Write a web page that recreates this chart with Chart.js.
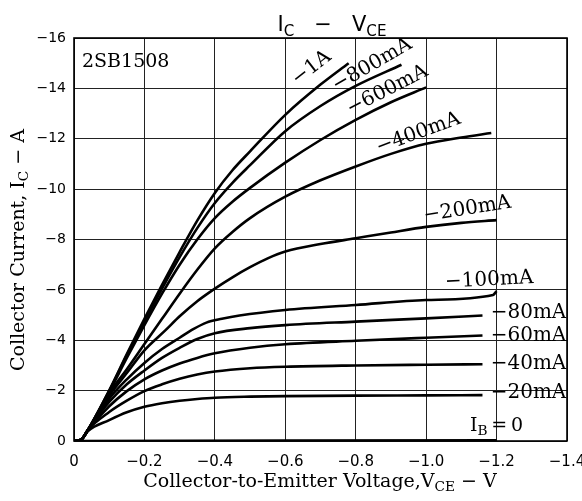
<!DOCTYPE html>
<html><head><meta charset="utf-8">
<script src="https://cdn.jsdelivr.net/npm/chart.js@4/dist/chart.umd.min.js"></script>
<style>html,body{margin:0;padding:0;background:#fff;}canvas{display:block;}</style>
</head><body>
<canvas id="c" width="582" height="501" style="width:582px;height:501px"></canvas>
<script>
// ---- tick labels ----
const xTickLabels = ['0', '\u22120.2', '\u22120.4', '\u22120.6', '\u22120.8', '\u22121.0', '\u22121.2', '\u22121.4'];
const yTickLabels = ['0', '\u22122', '\u22124', '\u22126', '\u22128', '\u221210', '\u221212', '\u221214', '\u221216'];

// ---- series (V_CE in V, I_C in A) ----
const vce_1A   = [0, -0.02, -0.04, -0.1, -0.15, -0.2, -0.25, -0.3, -0.35, -0.4, -0.45, -0.5, -0.6, -0.7, -0.78];
const ic_1A    = [0, -0.05, -0.45, -2.0, -3.45, -4.85, -6.2, -7.5, -8.75, -9.85, -10.75, -11.5, -12.95, -14.15, -15.0];
const vce_800  = [0, -0.02, -0.04, -0.1, -0.15, -0.2, -0.25, -0.3, -0.35, -0.4, -0.45, -0.5, -0.6, -0.7, -0.8, -0.93];
const ic_800   = [0, -0.05, -0.45, -2.0, -3.4, -4.75, -6.05, -7.3, -8.45, -9.45, -10.25, -10.95, -12.3, -13.3, -14.1, -14.94];
const vce_600  = [0, -0.02, -0.04, -0.1, -0.15, -0.2, -0.25, -0.3, -0.35, -0.4, -0.45, -0.5, -0.6, -0.7, -0.8, -0.9, -1.0];
const ic_600   = [0, -0.05, -0.45, -1.95, -3.3, -4.6, -5.85, -7.0, -8.0, -8.85, -9.5, -10.05, -11.05, -11.95, -12.75, -13.45, -14.04];
const vce_400  = [0, -0.02, -0.04, -0.1, -0.15, -0.2, -0.25, -0.3, -0.35, -0.4, -0.45, -0.5, -0.6, -0.7, -0.8, -0.9, -1.0, -1.1, -1.185];
const ic_400   = [0, -0.05, -0.45, -1.9, -2.85, -3.85, -4.85, -5.85, -6.8, -7.65, -8.3, -8.85, -9.7, -10.35, -10.9, -11.4, -11.8, -12.05, -12.23];
const vce_200  = [0, -0.02, -0.04, -0.1, -0.15, -0.2, -0.26, -0.3, -0.35, -0.4, -0.45, -0.5, -0.55, -0.6, -0.7, -0.8, -0.9, -1.0, -1.1, -1.2];
const ic_200   = [0, -0.05, -0.45, -1.8, -2.7, -3.6, -4.4, -4.95, -5.55, -6.05, -6.5, -6.9, -7.25, -7.52, -7.82, -8.05, -8.28, -8.5, -8.66, -8.77];
const vce_100  = [0, -0.02, -0.04, -0.1, -0.15, -0.2, -0.25, -0.3, -0.34, -0.376, -0.42, -0.47, -0.6, -0.8, -1.0, -1.19, -1.2];
const ic_100   = [0, -0.05, -0.45, -1.68, -2.45, -3.1, -3.65, -4.1, -4.45, -4.7, -4.85, -4.98, -5.2, -5.4, -5.6, -5.8, -5.95];
const vce_80   = [0, -0.02, -0.04, -0.1, -0.15, -0.2, -0.25, -0.3, -0.35, -0.4, -0.5, -0.6, -0.8, -1.0, -1.16];
const ic_80    = [0, -0.05, -0.45, -1.55, -2.25, -2.8, -3.3, -3.7, -4.05, -4.28, -4.48, -4.6, -4.74, -4.87, -4.98];
const vce_60   = [0, -0.02, -0.04, -0.1, -0.15, -0.2, -0.25, -0.3, -0.35, -0.4, -0.5, -0.6, -0.8, -1.0, -1.16];
const ic_60    = [0, -0.05, -0.45, -1.38, -1.98, -2.45, -2.8, -3.08, -3.3, -3.48, -3.7, -3.84, -3.98, -4.1, -4.19];
const vce_40   = [0, -0.02, -0.04, -0.1, -0.15, -0.2, -0.25, -0.3, -0.35, -0.4, -0.5, -0.6, -0.8, -1.0, -1.16];
const ic_40    = [0, -0.05, -0.45, -1.15, -1.6, -1.98, -2.25, -2.47, -2.64, -2.76, -2.89, -2.95, -3.0, -3.03, -3.05];
const vce_20   = [0, -0.02, -0.04, -0.1, -0.15, -0.2, -0.25, -0.3, -0.35, -0.4, -0.5, -0.6, -0.8, -1.0, -1.16];
const ic_20    = [0, -0.05, -0.4, -0.83, -1.14, -1.36, -1.5, -1.6, -1.67, -1.72, -1.76, -1.78, -1.8, -1.81, -1.82];
const vce_0    = [0, -1.2];
const ic_0     = [0, -0.03];

const seriesNames = ['\u22121A', '\u2212800mA', '\u2212600mA', '\u2212400mA', '\u2212200mA', '\u2212100mA', '\u221280mA', '\u221260mA', '\u221240mA', '\u221220mA', 'IB=0'];
const seriesV = [vce_1A, vce_800, vce_600, vce_400, vce_200, vce_100, vce_80, vce_60, vce_40, vce_20, vce_0];
const seriesI = [ic_1A, ic_800, ic_600, ic_400, ic_200, ic_100, ic_80, ic_60, ic_40, ic_20, ic_0];

// curve label anchors (data coords) and rotation (deg)
const curveLabels = [
  {t: '\u22121A',    v: -0.675, i: -14.81, rot: -38, align: 'center'},
  {t: '\u2212800mA', v: -0.847, i: -14.93, rot: -30, align: 'center'},
  {t: '\u2212600mA', v: -0.89,  i: -13.93, rot: -27, align: 'center'},
  {t: '\u2212400mA', v: -0.978, i: -12.22, rot: -20, align: 'center'},
  {t: '\u2212200mA', v: -1.117, i: -9.2,   rot: -9,  align: 'center'},
  {t: '\u2212100mA', v: -1.179, i: -6.39,  rot: -3,  align: 'center'},
  {t: '\u221280mA',  v: -1.398, i: -5.1,   rot: 0,   align: 'right'},
  {t: '\u221260mA',  v: -1.398, i: -4.16,  rot: 0,   align: 'right'},
  {t: '\u221240mA',  v: -1.398, i: -3.05,  rot: 0,   align: 'right'},
  {t: '\u221220mA',  v: -1.398, i: -1.9,   rot: 0,   align: 'right'}
];

const datasets = seriesV.map((vs, k) => ({
  label: seriesNames[k],
  data: vs.map((v, j) => ({x: v, y: seriesI[k][j]})),
  borderColor: '#000',
  borderWidth: 2.6,
  pointRadius: 0,
  fill: false,
  cubicInterpolationMode: 'monotone'
}));

function drawRich(ctx, parts, x, y, size, family, align) {
  let w = 0;
  const widths = parts.map(p => {
    ctx.font = (p.sub ? size * 0.72 : size) + 'px ' + family;
    const m = ctx.measureText(p.t).width;
    w += m; return m;
  });
  let cx = align === 'center' ? x - w / 2 : (align === 'right' ? x - w : x);
  ctx.textAlign = 'left';
  ctx.textBaseline = 'alphabetic';
  parts.forEach((p, k) => {
    ctx.font = (p.sub ? size * 0.72 : size) + 'px ' + family;
    ctx.fillText(p.t, cx, y + (p.sub ? size * 0.22 : 0));
    cx += widths[k];
  });
}

const deco = {
  id: 'deco',
  afterDraw(chart) {
    const ctx = chart.ctx;
    const a = chart.chartArea;
    const xs = chart.scales.x, ys = chart.scales.y;
    ctx.save();
    ctx.strokeStyle = '#000';
    ctx.lineWidth = 1.6;
    ctx.strokeRect(a.left, a.top, a.right - a.left, a.bottom - a.top);
    ctx.fillStyle = '#000';
    const serif = '"DejaVu Serif"';
    ctx.font = '19px ' + serif;
    ctx.textAlign = 'left'; ctx.textBaseline = 'alphabetic';
    ctx.fillText('2SB1508', 82, 67);
    curveLabels.forEach(L => {
      const px = xs.getPixelForValue(L.v), py = ys.getPixelForValue(L.i);
      ctx.save();
      ctx.translate(px, py);
      ctx.rotate(L.rot * Math.PI / 180);
      ctx.font = '20px ' + serif;
      ctx.textAlign = L.align; ctx.textBaseline = 'middle';
      ctx.fillText(L.t, 0, 0);
      ctx.restore();
    });
    drawRich(ctx, [{t: 'I'}, {t: 'B', sub: true}, {t: '\u2009=\u20090'}],
      xs.getPixelForValue(-1.2), ys.getPixelForValue(-0.4), 19, serif, 'center');
    drawRich(ctx, [{t: 'I'}, {t: 'C', sub: true}, {t: '   \u2212   '}, {t: 'V'}, {t: 'CE', sub: true}],
      332, 31, 21, '"DejaVu Sans"', 'center');
    drawRich(ctx, [{t: 'Collector-to-Emitter Voltage,'}, {t: 'V'}, {t: 'CE', sub: true}, {t: ' \u2212 V'}],
      320, 487, 19, serif, 'center');
    ctx.save();
    ctx.translate(24, 250);
    ctx.rotate(-Math.PI / 2);
    drawRich(ctx, [{t: 'Collector Current, I'}, {t: 'C', sub: true}, {t: ' \u2212 A'}], 0, 0, 19, serif, 'center');
    ctx.restore();
    ctx.restore();
  }
};

new Chart(document.getElementById('c'), {
  type: 'line',
  data: {datasets},
  options: {
    responsive: false,
    animation: false,
    devicePixelRatio: 1,
    layout: {padding: {top: 38, right: 15, left: 0, bottom: 0}},
    plugins: {legend: {display: false}, tooltip: {enabled: false}, title: {display: false}},
    scales: {
      x: {
        type: 'linear', min: -1.4, max: 0, reverse: true,
        afterFit(s) { s.height = 60; s.paddingLeft = 0; s.paddingRight = 0; },
        grid: {color: '#222', lineWidth: 1, drawTicks: false},
        border: {display: false},
        ticks: {stepSize: 0.2, padding: 12, color: '#000', maxRotation: 0, autoSkip: false,
          font: {family: '"DejaVu Sans"', size: 15},
          callback: v => xTickLabels[Math.round(-v / 0.2)]}
      },
      y: {
        type: 'linear', min: -16, max: 0, reverse: true,
        afterFit(s) { s.width = 74; s.paddingTop = 0; s.paddingBottom = 0; },
        grid: {color: '#222', lineWidth: 1, drawTicks: false},
        border: {display: false},
        ticks: {stepSize: 2, padding: 8, color: '#000',
          font: {family: '"DejaVu Sans"', size: 14},
          callback: v => yTickLabels[Math.round(-v / 2)]}
      }
    }
  },
  plugins: [deco]
});
</script>
</body></html>
